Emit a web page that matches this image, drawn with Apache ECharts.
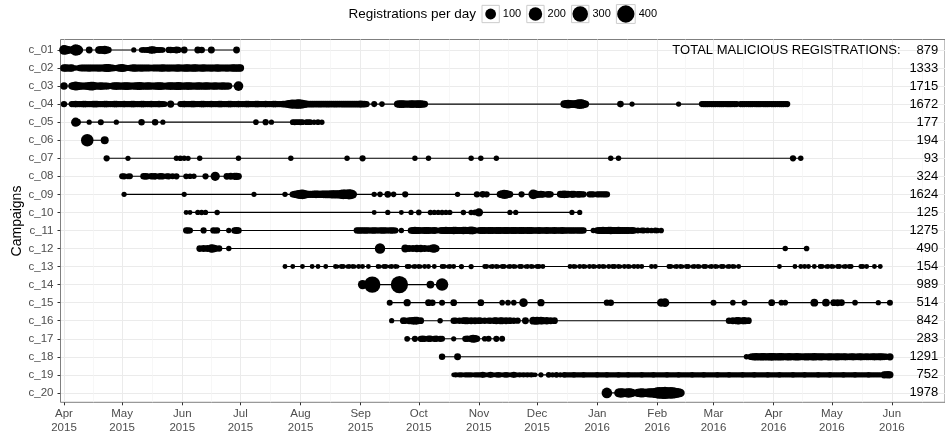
<!DOCTYPE html>
<html>
<head>
<meta charset="utf-8">
<script src="https://cdn.jsdelivr.net/npm/echarts@6/dist/echarts.min.js"></script>
<style>
  html, body { margin: 0; padding: 0; background: #ffffff; }
  #chart { width: 945px; height: 436px; }
</style>
</head>
<body>
<div id="chart"></div>
<script>
// Day 0 of every [day, registrations] pair below
const dayZero = '2015-04-01';

const campaigns = ['c_01','c_02','c_03','c_04','c_05','c_06','c_07','c_08','c_09','c_10',
                   'c_11','c_12','c_13','c_14','c_15','c_16','c_17','c_18','c_19','c_20'];

const totals = [879,1333,1715,1672,177,194,93,324,1624,125,1275,490,154,989,514,842,283,1291,752,1978];

const monthTicks = ['2015-04-01','2015-05-01','2015-06-01','2015-07-01','2015-08-01','2015-09-01',
                    '2015-10-01','2015-11-01','2015-12-01','2016-01-01','2016-02-01','2016-03-01',
                    '2016-04-01','2016-05-01','2016-06-01'];
const monthNames = ['Jan','Feb','Mar','Apr','May','Jun','Jul','Aug','Sep','Oct','Nov','Dec'];

const legendCounts = [100, 200, 300, 400];

// Registrations per day: [day since dayZero, count]
const c_01 = [[0,70],[1,55],[2,30],[3,15],[4,20],[5,45],[6,120],[7,90],[8,20],[13,16],[18,25],[19,30],[20,25],[21,40],[22,28],[23,10],
  [36,3],[40,4],[41,6],[42,5],[43,8],[44,12],[45,25],[46,22],[47,12],[48,6],[49,8],[50,6],[51,4],
  [54,10],[55,12],[56,8],[57,9],[58,18],[59,10],[62,16],[69,16],[71,14],[76,18],[89,16]];

const c_02 = [[0,28],[1,24],[2,18],[3,22],[4,26],[6,4],[8,14],[9,18],[10,20],[11,16],[12,18],[13,22],[14,20],[15,16],[16,18],
  [17,20],[18,22],[19,18],[20,20],[21,24],[22,34],[23,30],[24,18],[25,16],[26,10],[27,4],[28,18],[29,26],[30,30],[31,22],[32,12],
  [33,4],[34,14],[35,20],[36,24],[37,22],[38,18],[39,20],[40,22],[41,18],[42,16],[43,20],[44,18],[45,14],[46,18],[47,20],[48,16],
  [49,18],[50,22],[51,24],[52,20],[53,18],[54,22],[55,20],[56,16],[57,18],[58,22],[59,24],[60,20],[61,18],[62,22],[63,26],[64,24],
  [65,20],[66,22],[67,26],[68,24],[69,20],[70,18],[71,22],[72,24],[73,20],[74,16],[75,20],[76,22],[77,18],[78,20],[79,24],[80,22],
  [81,18],[82,16],[83,20],[84,22],[85,18],[86,20],[87,24],[88,26],[89,22],[90,28],[91,24]];

const c_03 = [[0,25],[4,18],[5,35],[6,55],[7,40],[8,28],[9,22],[10,18],[11,22],[12,28],[13,38],[14,50],[15,45],[16,28],[17,18],
  [18,22],[19,28],[20,22],[21,18],[22,20],[23,14],[25,18],[26,25],[27,28],[28,24],[29,20],[30,22],[31,26],[32,30],[33,28],[34,22],
  [35,18],[36,20],[37,24],[38,28],[39,32],[40,26],[41,20],[42,22],[43,26],[44,24],[45,20],[46,18],[47,22],[48,26],[49,30],[50,28],
  [51,22],[52,16],[53,20],[54,24],[55,28],[56,26],[57,22],[58,30],[59,34],[60,28],[61,22],[62,20],[63,24],[64,28],[65,26],[66,22],
  [67,18],[68,22],[69,26],[70,24],[71,20],[72,22],[73,26],[74,24],[75,20],[76,18],[77,22],[78,24],[79,20],[80,18],[81,22],[82,24],
  [83,20],[84,22],[85,18],[90,70]];

const c_04 = [[0,12],
  [4,10],[5,12],[6,14],[7,12],[8,10],[9,12],[10,14],[11,13],[12,12],[13,10],[14,12],[15,14],[16,16],[17,13],[18,12],[19,10],[20,12],
  [21,14],[22,13],[23,12],[24,10],[25,12],[26,13],[27,14],[28,12],[29,10],[30,12],[31,13],[32,12],[33,10],[34,12],[35,14],[36,13],
  [37,12],[38,10],[39,12],[40,13],[41,14],[42,12],[43,10],[44,12],[45,13],[46,12],[47,10],[48,12],[49,14],[50,12],[51,8],[52,6],
  [55,22],
  [60,8],[61,12],[62,13],[63,12],[64,10],[65,12],[66,14],[67,13],[68,10],[69,8],[70,12],[71,13],[72,14],[73,12],[74,10],[75,12],
  [76,13],[77,12],[78,10],[79,12],[80,14],[81,13],[82,12],[83,10],[84,12],[85,13],[86,14],[87,12],[88,10],[89,12],[90,13],[91,12],
  [92,10],[93,12],[94,14],[95,13],[96,12],[97,10],[98,12],[99,13],[100,14],[101,12],[102,10],[103,12],[104,13],[105,12],[106,10],
  [107,12],[108,14],[109,13],[110,12],[111,10],[112,12],[113,15],[114,18],[115,24],[116,35],[117,45],[118,55],[119,50],[120,60],
  [121,65],[122,55],[123,45],[124,30],[125,20],[126,16],[127,15],[128,16],[129,15],[130,14],[131,15],[132,16],[133,15],[134,14],
  [135,15],[136,16],[137,15],[138,14],[139,15],[140,16],[141,15],[142,14],[143,15],[144,16],[145,18],[146,16],[147,15],[148,16],
  [149,18],[150,16],[151,15],[152,18],[153,20],[154,16],[155,15],[156,12],
  [160,8],[164,5],
  [172,20],[173,26],[174,30],[175,26],[176,22],[177,20],[178,24],[179,28],[180,26],[181,22],[182,26],[183,30],[184,26],[185,22],[186,18],
  [258,28],[259,40],[260,45],[261,36],[262,30],[263,28],[264,40],[265,55],[266,75],[267,65],[268,40],[269,22],
  [287,14],[293,3],[317,3],
  [329,8],[330,10],[331,11],[332,10],[333,8],[334,10],[335,11],[336,10],[337,8],[338,10],[339,11],[340,10],[341,8],[342,10],[343,11],
  [344,10],[345,8],[346,10],[347,8],[349,10],[350,11],[351,10],[352,8],[353,10],[354,11],[355,10],[356,8],[357,10],[358,11],[359,10],
  [360,8],[361,10],[362,11],[363,10],[364,8],[365,10],[366,11],[367,10],[368,8],[369,10],[370,11],[371,10],[372,8],[373,10]];

const c_05 = [[6,55],[7,15],[13,3],[19,8],[27,3],[40,12],[47,12],[51,3],[99,5],[104,10],[107,3],[118,6],[119,8],[120,5],[121,7],
  [122,8],[123,6],[125,5],[126,7],[127,6],[129,4],[131,5],[133,4]];

const c_06 = [[12,160],[21,34]];

const c_07 = [[22,10],[33,3],[58,4],[60,5],[62,4],[64,3],[70,4],[90,4],[117,4],[146,4],[154,10],[181,4],[188,4],[210,4],[215,4],
  [223,4],[282,4],[286,4],[376,10],[380,4]];

const c_08 = [[30,8],[31,10],[33,6],[34,8],[41,12],[42,15],[43,10],[45,12],[46,10],[47,14],[49,10],[50,12],[51,10],[53,8],[54,10],
  [56,8],[58,10],[63,6],[65,5],[67,4],[73,10],[78,60],[84,15],[86,18],[88,20],[89,22],[90,15]];

const c_09 = [[31,3],[62,3],[98,3],[114,4],[118,12],[119,20],[120,30],[121,45],[122,60],[123,70],[124,45],[125,30],[126,22],[127,20],
  [128,22],[129,25],[130,28],[131,25],[132,22],[133,25],[134,28],[135,32],[136,30],[137,32],[138,35],[139,38],[140,35],[141,38],
  [142,42],[143,55],[144,70],[145,65],[146,60],[147,80],[148,75],[149,40],[160,4],[163,5],[167,16],[170,5],[176,10],[203,4],
  [213,12],[216,14],[218,10],[225,20],[226,35],[227,55],[228,45],[229,25],[230,15],[236,10],[242,70],[243,40],[244,22],[245,15],
  [246,18],[247,15],[249,12],[250,15],[251,10],[256,18],[257,22],[258,28],[259,22],[260,18],[262,20],[263,18],[265,15],[266,14],
  [267,12],[268,10],[271,10],[272,12],[273,10],[275,12],[276,10],[277,8],[278,12],[279,10],[280,12]];

const c_10 = [[63,2],[65,2],[69,3],[71,4],[73,3],[79,4],[160,2],[167,3],[174,2],[179,3],[183,5],[189,4],[191,3],[193,3],[195,4],
  [197,3],[199,3],[206,4],[210,4],[212,6],[214,40],[230,3],[233,3],[262,3],[266,3]];

const c_11 = [[63,10],[64,12],[65,8],[72,10],[77,10],[78,8],[79,10],[85,4],[88,14],[89,18],[90,12],
  [151,10],[152,14],[153,12],[154,10],[155,12],[156,14],[157,10],[158,8],[159,12],[160,14],[161,10],[162,8],[163,10],[164,12],
  [165,14],[166,10],[167,8],[168,10],[169,12],[170,10],[171,8],[174,4],
  [179,14],[180,18],[181,22],[182,20],[183,16],[184,14],[185,12],[186,16],[187,20],[188,18],[189,14],[190,12],[191,16],[192,10],
  [194,12],[195,16],[196,20],[197,22],[198,18],[199,16],[200,20],[201,24],[202,22],[203,18],[204,16],[205,20],[206,24],[207,22],
  [208,18],[209,22],[210,30],[211,24],[212,14],
  [214,14],[215,18],[216,20],[217,16],[218,14],[219,18],[220,20],[221,16],[222,14],[223,16],[224,20],[225,18],[226,14],[227,16],
  [228,18],[229,16],[230,14],[231,16],[232,18],[233,16],[234,14],[235,16],[236,18],[237,16],[238,14],[239,16],[240,18],[241,16],
  [242,14],[243,12],[244,14],[245,16],[246,14],[247,12],[248,14],[249,16],[250,14],[251,12],[252,14],[253,16],[254,14],[255,12],
  [256,14],[257,16],[258,14],[259,12],[260,10],[261,12],[262,14],[263,12],[264,10],[265,12],[266,14],[267,12],[268,10],[273,4],
  [275,12],[276,18],[277,20],[278,22],[279,20],[280,18],[281,22],[282,24],[283,20],[284,18],[285,20],[286,22],[287,18],[288,16],
  [289,18],[290,20],[291,16],[292,14],[293,16],[294,12],[296,8],[298,6],[299,8],[301,6],[303,5],[305,6],[306,5],[308,5]];

const c_12 = [[70,15],[72,18],[74,20],[76,40],[77,30],[78,20],[80,12],[85,4],[163,90],[176,30],[178,20],[180,18],[182,22],[184,25],
  [186,20],[188,15],[190,30],[191,45],[192,15],[372,4],[383,5]];

const c_13 = [[114,2],[118,2],[123,2],[128,2],[131,2],[135,2],[140,2],[141,1],[143,2],[144,2],[146,1],[147,2],[149,2],[150,1],
  [152,2],[154,2],[157,2],[162,2],[163,1],[165,2],[166,2],[168,1],[169,2],[171,2],[172,1],[177,2],[178,2],[180,1],[181,2],[183,2],
  [184,1],[186,2],[188,2],[191,2],[195,2],[196,2],[198,1],[199,2],[201,2],[205,3],[210,3],[217,2],[218,2],[220,1],[221,2],[223,2],
  [224,1],[226,2],[227,2],[229,1],[230,2],[232,2],[233,1],[235,2],[236,2],[238,1],[239,2],[241,2],[242,1],[244,2],[245,2],[247,2],
  [261,2],[263,2],[264,1],[266,2],[268,2],[269,1],[271,2],[273,2],[274,1],[276,2],[278,2],[279,1],[281,2],[283,2],[284,2],[286,2],
  [287,1],[289,2],[291,2],[292,1],[294,2],[296,2],[298,2],[303,2],[305,2],[312,2],[313,2],[315,1],[316,2],[318,2],[319,1],[321,2],
  [322,2],[324,1],[325,2],[327,2],[328,1],[330,2],[331,2],[333,1],[334,2],[336,2],[337,1],[339,2],[340,2],[342,1],[343,2],[345,2],
  [346,1],[348,2],[369,2],[377,2],[380,2],[382,2],[384,2],[387,2],[390,2],[391,2],[393,1],[394,2],[396,2],[397,1],[399,2],[400,2],
  [402,1],[403,2],[405,2],[406,2],[411,2],[412,2],[414,2],[418,2],[421,2]];

const c_14 = [[154,60],[159,340],[173,400],[189,30],[195,160]];

const c_15 = [[168,8],[177,22],[188,15],[190,12],[195,8],[201,15],[215,15],[226,5],[229,5],[232,5],[237,45],[246,22],[280,10],
  [282,12],[308,40],[310,45],[335,8],[345,5],[351,8],[365,16],[370,5],[372,5],[387,30],[393,28],[397,15],[399,18],[401,14],
  [408,5],[420,3],[426,8]];

const c_16 = [[169,3],[175,15],[176,12],[178,18],[179,20],[180,25],[181,30],[182,28],[184,15],[194,4],[201,12],[202,10],[204,14],
  [206,15],[207,18],[208,20],[210,16],[212,18],[214,15],[215,12],[217,14],[219,10],[220,12],[222,15],[223,18],[225,20],[226,16],
  [228,18],[230,15],[232,12],[234,10],[238,18],[242,30],[243,25],[244,35],[246,28],[247,22],[249,25],[251,20],[253,15],
  [343,12],[345,20],[347,22],[348,25],[350,20],[351,22],[353,15]];

const c_17 = [[177,6],[181,10],[184,10],[185,12],[186,10],[188,14],[189,12],[191,10],[192,12],[194,10],[195,8],[201,3],[207,10],
  [208,14],[210,20],[211,30],[212,25],[213,12],[217,5],[219,8],[223,10],[226,7]];

const c_18 = [[195,12],[203,18],[352,4],[354,10],[355,18],[356,22],[357,25],[358,20],[359,22],[360,26],[361,24],[362,20],[363,22],
  [364,26],[365,28],[366,24],[367,20],[368,22],[369,26],[370,24],[371,20],[372,18],[373,22],[374,24],[375,20],[376,18],[377,22],
  [378,24],[379,22],[380,18],[381,16],[382,20],[383,22],[384,20],[385,18],[386,22],[387,24],[388,20],[389,18],[390,22],[391,20],
  [392,18],[393,16],[394,20],[395,22],[396,18],[397,16],[398,20],[399,22],[400,18],[401,16],[402,18],[403,20],[404,16],[405,14],
  [406,18],[407,20],[408,16],[409,14],[410,18],[411,20],[412,16],[413,14],[414,18],[415,16],[416,14],[417,18],[418,20],[419,16],
  [420,18],[421,20],[422,18],[423,14],[424,12],[426,22]];

const c_19 = [[201,2],[202,3],[203,2],[204,3],[205,3],[206,2],[207,3],[208,4],[209,3],[210,3],[211,2],[212,3],[213,3],[214,4],
  [215,3],[216,8],[217,3],[218,2],[219,3],[220,8],[221,3],[222,2],[223,3],[224,7],[225,3],[226,2],[227,3],[228,7],[229,3],[230,2],
  [231,3],[232,8],[233,3],[234,2],[235,3],[236,2],[237,3],[238,2],[239,3],[240,2],[241,3],[242,2],[243,2],[246,3],[250,7],[252,4],
  [254,7],[256,4],[258,6],[259,4],[260,4],[261,3],[262,4],[263,5],[264,4],[265,3],[266,4],[267,4],[268,5],[269,4],[270,3],[271,4],
  [272,4],[273,3],[274,4],[275,5],[276,4],[277,4],[278,3],[279,4],[280,5],[281,4],[282,4],[283,3],[284,4],[285,4],[286,5],[287,4],
  [288,3],[289,4],[290,4],[291,5],[292,4],[293,3],[294,4],[295,4],[296,3],[297,4],[298,5],[299,4],[300,4],[301,3],[302,4],[303,4],
  [304,5],[305,4],[306,3],[307,4],[308,4],[309,3],[310,4],[311,5],[312,4],[313,4],[314,3],[315,4],[316,4],[317,5],[318,4],[319,3],
  [320,4],[321,4],[322,3],[323,4],[324,5],[325,4],[326,4],[327,3],[328,4],[329,4],[330,5],[331,4],[332,3],[333,4],[334,4],[335,3],
  [336,4],[337,5],[338,4],[339,4],[340,3],[341,4],[342,4],[343,5],[344,4],[345,3],[346,4],[347,4],[348,3],[349,4],[350,5],[351,4],
  [352,4],[353,3],[354,4],[355,4],[356,5],[357,4],[358,3],[359,4],[360,4],[361,3],[362,4],[363,5],[364,4],[365,4],[366,3],[367,4],
  [368,4],[369,5],[370,4],[371,3],[372,4],[373,4],[374,3],[375,4],[376,5],[377,4],[378,4],[379,3],[380,4],[381,4],[382,5],[383,4],
  [384,3],[385,4],[386,4],[387,3],[388,4],[389,5],[390,4],[391,4],[392,3],[393,4],[394,4],[395,5],[396,4],[397,3],[398,4],[399,4],
  [400,3],[401,4],[402,5],[403,4],[404,4],[405,3],[406,4],[407,4],[408,5],[409,4],[410,3],[411,4],[412,4],[413,3],[414,4],[415,5],
  [416,4],[417,4],[418,3],[419,4],[420,4],[421,3],[423,22],[424,18],[425,25],[426,20]];

const c_20 = [[280,95],[286,45],[287,65],[288,55],[289,40],[290,50],[291,65],[292,55],[293,35],[296,35],[297,50],[298,55],[299,45],
  [300,40],[301,50],[302,60],[303,55],[304,65],[305,85],[306,110],[307,130],[308,120],[309,140],[310,150],[311,125],[312,110],
  [313,135],[314,120],[315,95],[316,75],[317,60],[318,40]];

const campaignSeries = [c_01,c_02,c_03,c_04,c_05,c_06,c_07,c_08,c_09,c_10,c_11,c_12,c_13,c_14,c_15,c_16,c_17,c_18,c_19,c_20];

// ---- scales and layout ----
const FONT = '"Liberation Sans", Arial, Helvetica, sans-serif';
const DAY_MS = 86400000;
const toDay = s => Math.round((Date.parse(s) - Date.parse(dayZero)) / DAY_MS);

// point diameter grows with the square root of the daily count
const sizeOf = v => 4.3 + 13.8 * Math.sqrt(Math.max(v - 1, 0) / 449);

const xMin = -1.8, xMax = 454.4;
const yMin = -0.58, yMax = 19.52;

const tickDays = monthTicks.map(toDay);
const tickText = {};
monthTicks.forEach((s, i) => {
  const parts = s.split('-');
  tickText[tickDays[i]] = monthNames[+parts[1] - 1] + '\n' + parts[0];
});
const minorDays = tickDays.map((d, i) => {
  const next = i + 1 < tickDays.length ? tickDays[i + 1] : d + (d - tickDays[i - 1]);
  return (d + next) / 2;
});
const rowIdx = campaigns.map((_, i) => i);

const series = [];
campaignSeries.forEach((pts, i) => {
  const days = pts.map(p => p[0]);
  series.push({
    type: 'line',
    data: [[Math.min(...days), i], [Math.max(...days), i]],
    symbol: 'none',
    lineStyle: { color: '#000', width: 1.1 },
    silent: true,
    animation: false,
    z: 2
  });
});
series.push({
  type: 'scatter',
  data: campaignSeries.flatMap((pts, i) => pts.map(p => [p[0], i, p[1]])),
  symbolSize: v => sizeOf(v[2]),
  itemStyle: { color: '#000', opacity: 1 },
  silent: true,
  animation: false,
  z: 3
});

// size legend drawn with the same size function
const legendEls = [];
legendEls.push({
  type: 'text', x: 476, y: 14,
  style: { text: 'Registrations per day', fill: '#000', font: '13.5px ' + FONT, textAlign: 'right', textVerticalAlign: 'middle' }
});
let lx = 482;
legendCounts.forEach(c => {
  const d = sizeOf(c);
  const w = Math.max(17.3, d + 1.5);
  legendEls.push({
    type: 'rect', x: lx, y: 14 - w / 2,
    shape: { x: 0, y: 0, width: w, height: w },
    style: { fill: '#fff', stroke: '#cccccc', lineWidth: 1 }
  });
  legendEls.push({
    type: 'circle', x: lx + w / 2, y: 14,
    shape: { cx: 0, cy: 0, r: d / 2 },
    style: { fill: '#000' }
  });
  legendEls.push({
    type: 'text', x: lx + w + 3.5, y: 14,
    style: { text: String(c), fill: '#000', font: '11px ' + FONT, textVerticalAlign: 'middle' }
  });
  lx += w + 3.5 + 21 + 3;
});
legendEls.push({
  type: 'text', x: 16.7, y: 221, rotation: Math.PI / 2,
  style: { text: 'Campaigns', fill: '#000', font: '14px ' + FONT, textAlign: 'center', textVerticalAlign: 'middle' }
});

const chart = echarts.init(document.getElementById('chart'), null, { renderer: 'canvas' });
chart.setOption({
  animation: false,
  backgroundColor: '#ffffff',
  textStyle: { fontFamily: FONT },
  grid: {
    left: 60.5, right: -5, top: 39.5, bottom: 33.7,
    show: true, borderColor: '#7f7f7f', borderWidth: 1, backgroundColor: '#ffffff'
  },
  xAxis: [{
    type: 'value', min: xMin, max: xMax, position: 'bottom',
    axisLine: { show: false, onZero: false },
    axisTick: { show: true, length: 3, lineStyle: { color: '#333', width: 1 }, customValues: tickDays },
    axisLabel: {
      customValues: tickDays, formatter: v => tickText[Math.round(v)] || '',
      color: '#4d4d4d', fontSize: 11.5, lineHeight: 14, margin: 5, fontFamily: FONT
    },
    splitLine: { show: true, lineStyle: { color: '#ebebeb', width: 1 } }
  }, {
    type: 'value', min: xMin, max: xMax, position: 'top',
    axisLine: { show: false, onZero: false },
    axisTick: { show: false, customValues: minorDays },
    axisLabel: { show: false },
    splitLine: { show: true, lineStyle: { color: '#f3f3f3', width: 0.7 } }
  }],
  yAxis: [{
    type: 'value', inverse: true, min: yMin, max: yMax, position: 'left',
    axisLine: { show: false, onZero: false },
    axisTick: { show: true, length: 3, lineStyle: { color: '#333', width: 1 }, customValues: rowIdx },
    axisLabel: {
      customValues: rowIdx, formatter: v => campaigns[Math.round(v)] || '',
      color: '#4d4d4d', fontSize: 11.5, margin: 7, fontFamily: FONT
    },
    splitLine: { show: true, lineStyle: { color: '#ebebeb', width: 1 } }
  }, {
    type: 'value', inverse: true, min: yMin, max: yMax, position: 'right',
    axisLine: { show: false, onZero: false },
    axisTick: { show: false, customValues: rowIdx },
    axisLabel: {
      inside: true, customValues: rowIdx, margin: 6.7,
      formatter: v => {
        const i = Math.round(v);
        return i === 0 ? '{t|TOTAL MALICIOUS REGISTRATIONS:}{n|' + totals[0] + '}' : '{n|' + totals[i] + '}';
      },
      rich: {
        t: { fontSize: 13, color: '#000', fontFamily: FONT, padding: [0, 16, 0, 0] },
        n: { fontSize: 13, color: '#000', fontFamily: FONT }
      }
    },
    splitLine: { show: false }
  }],
  graphic: legendEls,
  series: series
});
</script>
</body>
</html>
